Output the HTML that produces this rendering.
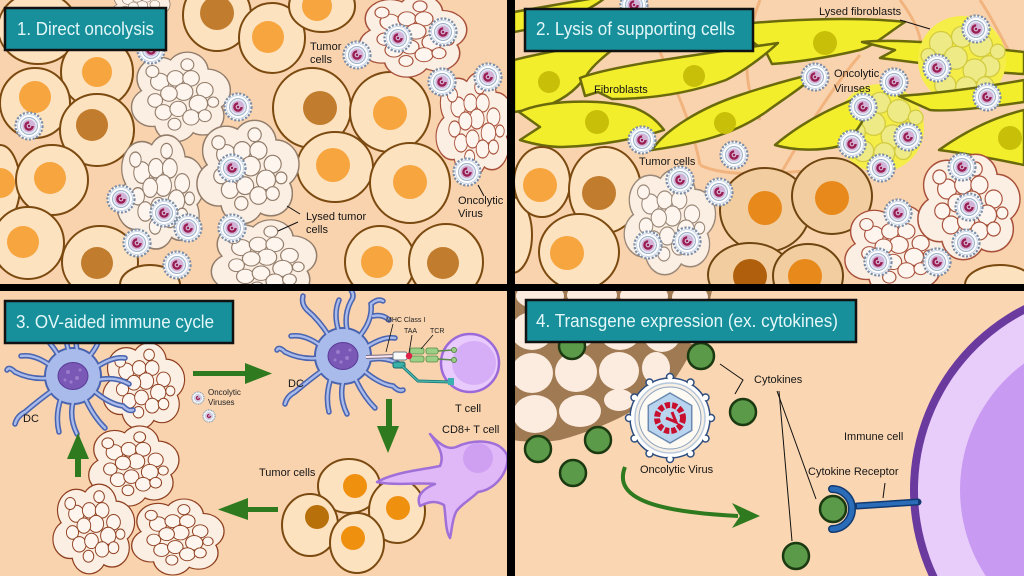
<!DOCTYPE html>
<html><head><meta charset="utf-8"><style>
html,body{margin:0;padding:0;background:#000;width:1024px;height:576px;overflow:hidden;}
svg{display:block;font-family:"Liberation Sans",Arial,sans-serif;overflow:hidden;}
.c{fill:#fde2c0;stroke:#7b4a10;stroke-width:2}
.t{fill:#f2cda0;stroke:#6e4510;stroke-width:2}
.no{fill:#f7a53f}.nb{fill:#c27c2e}.nd{fill:#e8891c}.nk{fill:#b0600c}
.fb{fill:#f3ee2c;stroke:#6a6a0c;stroke-width:2.5;stroke-linejoin:round}
.fn{fill:#c8bf08}
.lb{font-size:11px;fill:#151515}
.ttl{font-size:18px;fill:#e4f7f8}
.box{fill:#17909c;stroke:#111;stroke-width:2.5}
.cy{fill:#5b9a48;stroke:#1c3a12;stroke-width:2.5}
</style></head><body>
<svg width="1024" height="576" viewBox="0 0 1024 576" xmlns="http://www.w3.org/2000/svg">
<defs>
<clipPath id="c1"><rect x="0" y="0" width="507" height="284"/></clipPath>
<clipPath id="c2"><rect x="515" y="0" width="509" height="284"/></clipPath>
<clipPath id="c3"><rect x="0" y="291" width="507" height="285"/></clipPath>
<clipPath id="c4"><rect x="515" y="291" width="509" height="285"/></clipPath>
<g id="v">
<circle r="13.5" fill="#fff" stroke="#7d8fa8" stroke-width="2.2" stroke-dasharray="2.2 1.6"/>
<circle r="11.5" fill="#fff" stroke="#c8d4e4" stroke-width="1"/>
<circle r="8.5" fill="#e6edf6" stroke="#9fb0c8" stroke-width="1"/>
<circle r="6.5" fill="#d2b4d8"/>
<circle r="3.6" fill="none" stroke="#9a1e50" stroke-width="2.4" stroke-dasharray="17 6"/>
<circle r="1.2" fill="#9a1e50"/>
</g>
<g id="L">
<g fill="#fbeee2" stroke="currentColor" stroke-width="3">
<circle cx="-22" cy="-22" r="24"/><circle cx="8" cy="-30" r="22"/><circle cx="30" cy="-8" r="24"/><circle cx="25" cy="22" r="22"/><circle cx="-5" cy="30" r="22"/><circle cx="-30" cy="12" r="22"/><circle cx="0" cy="0" r="30"/>
</g>
<g fill="#fbeee2">
<circle cx="-22" cy="-22" r="24"/><circle cx="8" cy="-30" r="22"/><circle cx="30" cy="-8" r="24"/><circle cx="25" cy="22" r="22"/><circle cx="-5" cy="30" r="22"/><circle cx="-30" cy="12" r="22"/><circle cx="0" cy="0" r="30"/>
</g>
<g fill="#fdf5ee" stroke="currentColor" stroke-width="1.2">
<circle cx="-22" cy="-18" r="10"/><circle cx="-5" cy="-22" r="9"/><circle cx="12" cy="-22" r="9"/><circle cx="27" cy="-8" r="9"/><circle cx="20" cy="8" r="10"/><circle cx="4" cy="-6" r="10"/><circle cx="-12" cy="-4" r="9"/><circle cx="-27" cy="4" r="8"/><circle cx="-18" cy="18" r="9"/><circle cx="-2" cy="14" r="9"/><circle cx="12" cy="24" r="9"/><circle cx="27" cy="22" r="7"/><circle cx="-6" cy="32" r="7"/><circle cx="8" cy="-38" r="7"/><circle cx="-30" cy="-30" r="7"/><circle cx="36" cy="6" r="6"/>
</g>
</g>
<g id="LY">
<g fill="#eeea86" stroke="#d2cb3e" stroke-width="1.2">
<circle cx="-20" cy="-18" r="11"/><circle cx="0" cy="-24" r="10"/><circle cx="18" cy="-16" r="11"/><circle cx="26" cy="4" r="10"/><circle cx="12" cy="8" r="11"/><circle cx="-6" cy="-4" r="11"/><circle cx="-24" cy="4" r="10"/><circle cx="-16" cy="22" r="10"/><circle cx="4" cy="24" r="10"/><circle cx="22" cy="22" r="8"/><circle cx="-32" cy="-6" r="7"/><circle cx="34" cy="-10" r="7"/>
</g>
</g>
<g id="dc">
<g fill="none" stroke="#4a64b0" stroke-width="5.5" stroke-linecap="round">
<path id="dd" d="M5,-22 Q0,-40 8,-55 Q12,-60 8,-66 M15,-18 Q30,-35 28,-52 Q35,-58 40,-55 M22,-8 Q40,-20 52,-18 M24,4 Q42,0 56,8 M20,14 Q36,28 50,30 Q56,36 60,34 M12,22 Q20,40 32,52 M0,26 Q-4,42 4,58 M-12,22 Q-18,40 -14,56 M-20,14 Q-34,24 -48,36 Q-56,40 -58,48 M-24,2 Q-42,4 -58,-4 Q-64,-10 -66,-6 M-22,-10 Q-38,-22 -52,-20 M-14,-20 Q-24,-36 -36,-46 M-4,-24 Q-10,-42 -4,-56 M30,-40 Q40,-42 46,-36 M-36,-46 Q-42,-52 -40,-60"/>
</g>
<circle r="28" fill="#a9bbea" stroke="#4a64b0" stroke-width="2"/>
<use href="#dd" fill="none" stroke="#a9bbea" stroke-width="2.4" stroke-linecap="round"/>
<circle r="24" fill="#a9bbea"/>
<ellipse rx="15" ry="13.5" fill="#7a58b6" stroke="#5a3a98" stroke-width="1"/>
<g fill="#9a7ccc"><circle cx="-5" cy="-4" r="2"/><circle cx="4" cy="2" r="2"/><circle cx="-2" cy="6" r="1.6"/><circle cx="7" cy="-6" r="1.6"/><circle cx="-8" cy="4" r="1.5"/></g>
</g>
</defs>

<rect width="1024" height="576" fill="#000"/>

<!-- ===== PANEL 1 ===== -->
<g clip-path="url(#c1)">
<rect x="0" y="0" width="507" height="284" fill="#f9d3ae"/>
<g>
<ellipse class="c" cx="38" cy="28" rx="40" ry="36"/>
<ellipse class="c" cx="97" cy="72" rx="36" ry="36"/><circle class="no" cx="97" cy="72" r="15"/>
<ellipse class="c" cx="35" cy="103" rx="35" ry="35"/><circle class="no" cx="35" cy="97" r="16"/>
<ellipse class="c" cx="97" cy="130" rx="37" ry="36"/><circle class="nb" cx="92" cy="125" r="16"/>
<ellipse class="c" cx="0" cy="185" rx="20" ry="40"/><circle class="no" cx="0" cy="183" r="15"/>
<ellipse class="c" cx="52" cy="180" rx="36" ry="35"/><circle class="no" cx="50" cy="178" r="16"/>
<ellipse class="c" cx="28" cy="243" rx="36" ry="36"/><circle class="no" cx="23" cy="242" r="16"/>
<ellipse class="c" cx="100" cy="262" rx="38" ry="36"/><circle class="nb" cx="97" cy="263" r="16"/>
<ellipse class="c" cx="150" cy="285" rx="30" ry="20"/>
<ellipse class="c" cx="217" cy="15" rx="34" ry="36"/><circle class="nb" cx="217" cy="13" r="17"/>
<ellipse class="c" cx="272" cy="38" rx="33" ry="35"/><circle class="no" cx="268" cy="37" r="16"/>
<ellipse class="c" cx="322" cy="6" rx="33" ry="26"/><circle class="no" cx="317" cy="6" r="15"/>
<ellipse class="c" cx="312" cy="108" rx="39" ry="40"/><circle class="nb" cx="320" cy="108" r="17"/>
<ellipse class="c" cx="390" cy="112" rx="40" ry="40"/><circle class="no" cx="390" cy="113" r="17"/>
<ellipse class="c" cx="335" cy="167" rx="38" ry="35"/><circle class="no" cx="333" cy="165" r="17"/>
<ellipse class="c" cx="410" cy="183" rx="40" ry="40"/><circle class="no" cx="410" cy="182" r="17"/>
<ellipse class="c" cx="380" cy="262" rx="35" ry="36"/><circle class="no" cx="377" cy="262" r="16"/>
<ellipse class="c" cx="446" cy="262" rx="37" ry="38"/><circle class="nb" cx="443" cy="263" r="16"/>
</g>
<g color="#927c6a">
<use href="#L" transform="translate(180,97) scale(0.92,0.85)"/>
<use href="#L" transform="translate(160,192) scale(0.82,1.08)"/>
<use href="#L" transform="translate(247,172) scale(0.95,0.98)"/>
<use href="#L" transform="translate(263,262) scale(0.98,0.8)"/>
<use href="#L" transform="translate(140,8) scale(0.55,0.45)"/>
</g>
<g color="#a8503a">
<use href="#L" transform="translate(412,36) scale(1.0,0.78)"/>
<use href="#L" transform="translate(474,125) scale(0.72,1.0)"/>
</g>
<g>
<use href="#v" x="29" y="126"/><use href="#v" x="238" y="107"/><use href="#v" x="357" y="55"/><use href="#v" x="398" y="38"/><use href="#v" x="443" y="32"/><use href="#v" x="442" y="82"/><use href="#v" x="488" y="77"/><use href="#v" x="467" y="172"/><use href="#v" x="232" y="168"/><use href="#v" x="121" y="199"/><use href="#v" x="164" y="213"/><use href="#v" x="188" y="228"/><use href="#v" x="232" y="228"/><use href="#v" x="137" y="243"/><use href="#v" x="177" y="265"/><use href="#v" x="151" y="50"/>
</g>
<g stroke="#111" stroke-width="1">
<line x1="287" y1="206" x2="300" y2="214"/><line x1="278" y1="231" x2="298" y2="222"/><line x1="478" y1="185" x2="484" y2="196"/>
</g>
<text class="lb" x="310" y="50">Tumor</text><text class="lb" x="310" y="63">cells</text>
<text class="lb" x="306" y="220">Lysed tumor</text><text class="lb" x="306" y="233">cells</text>
<text class="lb" x="458" y="204">Oncolytic</text><text class="lb" x="458" y="217">Virus</text>
<rect class="box" x="5" y="8" width="161" height="42"/>
<text class="ttl" x="17" y="35" textLength="137" lengthAdjust="spacingAndGlyphs">1. Direct oncolysis</text>
</g>

<!-- ===== PANEL 2 ===== -->
<g clip-path="url(#c2)">
<rect x="515" y="0" width="509" height="284" fill="#f9d3ae"/>
<g fill="none" stroke="#f0ad74" stroke-width="3" opacity="0.8">
<path d="M640,0 C660,60 690,110 700,165"/>
<path d="M760,0 C745,40 740,80 760,120"/>
<path d="M860,55 C830,90 800,140 780,175"/>
<path d="M980,0 C1000,30 1010,60 1024,70"/>
<path d="M700,165 C730,180 790,172 840,168"/>
<path d="M900,0 C915,20 925,40 920,60"/>
</g>
<g>
<path class="fb" d="M514,12 L595,-2 L605,-2 C585,14 550,26 514,32 Z"/>
<path class="fb" d="M752,25 L690,40 L752,35 Z"/>
<path class="fb" d="M752,23 C800,19 860,17 905,22 C885,35 875,45 860,50 C830,57 800,62 772,64 L765,50 C758,46 752,43 745,33 Z"/><circle class="fn" cx="825" cy="43" r="12"/>
<path class="fb" d="M862,42 C900,38 960,45 1024,52 L1024,74 C980,72 930,64 880,58 L895,50 Z"/>
<path class="fb" d="M514,60 C545,52 580,46 625,40 C605,55 592,66 586,76 C575,92 560,102 540,108 L514,112 Z"/><circle class="fn" cx="549" cy="82" r="11"/>
<path class="fb" d="M580,78 C610,66 690,56 778,43 C762,58 742,72 726,80 C690,93 650,99 612,99 L598,92 L585,96 Z"/><circle class="fn" cx="694" cy="76" r="11"/>
<path class="fb" d="M519,112 C545,100 600,98 635,108 C650,114 658,122 664,130 C640,138 600,146 562,147 C545,147 530,143 520,140 L540,127 Z"/><circle class="fn" cx="597" cy="122" r="12"/>
<path class="fb" d="M652,150 C665,130 700,108 740,95 C770,85 795,78 818,73 C802,88 782,100 766,112 C740,130 710,142 652,150 Z"/><circle class="fn" cx="725" cy="123" r="11"/>
</g>
<circle cx="880" cy="128" r="44" fill="#f6ee48"/>
<circle cx="962" cy="60" r="44" fill="#f6ee48"/>
<use href="#LY" transform="translate(880,128) scale(1.05)"/>
<use href="#LY" transform="translate(962,62) scale(1.05)"/>
<g>
<path class="fb" d="M775,145 C795,128 822,112 852,100 L868,110 C860,128 850,140 840,146 C820,151 795,151 775,145 Z"/>
<path class="fb" d="M899,96 C930,94 980,88 1024,80 L1024,102 C990,107 950,112 930,110 Z"/>
<path class="fb" d="M939,150 C960,135 990,118 1024,110 L1024,165 C1000,160 970,154 939,150 Z"/><circle class="fn" cx="1010" cy="138" r="12"/>
</g>
<g>
<ellipse class="c" cx="512" cy="235" rx="20" ry="38"/>
<ellipse class="c" cx="542" cy="182" rx="28" ry="35"/><circle class="no" cx="540" cy="185" r="17"/>
<ellipse class="c" cx="605" cy="190" rx="36" ry="43"/><circle class="nb" cx="599" cy="193" r="17"/>
<ellipse class="c" cx="579" cy="252" rx="40" ry="38"/><circle class="no" cx="567" cy="253" r="17"/>
<ellipse class="t" cx="765" cy="210" rx="45" ry="42"/><circle class="nd" cx="765" cy="208" r="17"/>
<ellipse class="t" cx="832" cy="196" rx="40" ry="38"/><circle class="nd" cx="832" cy="198" r="17"/>
<ellipse class="t" cx="750" cy="275" rx="42" ry="32"/><circle class="nk" cx="750" cy="276" r="17"/>
<ellipse class="t" cx="808" cy="276" rx="35" ry="32"/><circle class="nd" cx="805" cy="276" r="17"/>
<ellipse class="c" cx="1000" cy="285" rx="35" ry="20"/>
</g>
<g color="#9a8878"><use href="#L" transform="translate(669,222) scale(0.85,1.0)"/></g>
<g color="#a8503a">
<use href="#L" transform="translate(895,250) scale(0.95,0.85)"/>
<use href="#L" transform="translate(968,207) scale(0.95,1.0)"/>
</g>
<g>
<use href="#v" x="634" y="5"/><use href="#v" x="815" y="77"/><use href="#v" x="894" y="82"/><use href="#v" x="937" y="68"/><use href="#v" x="976" y="29"/><use href="#v" x="987" y="97"/><use href="#v" x="863" y="107"/><use href="#v" x="908" y="137"/><use href="#v" x="852" y="144"/><use href="#v" x="881" y="168"/><use href="#v" x="642" y="140"/><use href="#v" x="734" y="155"/><use href="#v" x="680" y="180"/><use href="#v" x="719" y="192"/><use href="#v" x="648" y="245"/><use href="#v" x="687" y="241"/><use href="#v" x="962" y="167"/><use href="#v" x="969" y="207"/><use href="#v" x="898" y="213"/><use href="#v" x="966" y="243"/><use href="#v" x="878" y="262"/><use href="#v" x="937" y="262"/>
</g>
<line x1="900" y1="20" x2="930" y2="29" stroke="#111" stroke-width="1"/>
<text class="lb" x="819" y="15">Lysed fibroblasts</text>
<text class="lb" x="594" y="93">Fibroblasts</text>
<text class="lb" x="834" y="77">Oncolytic</text><text class="lb" x="834" y="92">Viruses</text>
<text class="lb" x="639" y="165">Tumor cells</text>
<rect class="box" x="525" y="9" width="228" height="42"/>
<text class="ttl" x="536" y="35" textLength="199" lengthAdjust="spacingAndGlyphs">2. Lysis of supporting cells</text>
</g>

<!-- ===== PANEL 3 ===== -->
<g clip-path="url(#c3)">
<rect x="0" y="291" width="507" height="285" fill="#f9d3ae"/>
<g color="#8e3e1e">
<use href="#L" transform="translate(143,386) scale(0.76,0.82)"/>
<use href="#L" transform="translate(133,466) scale(0.84,0.76)"/>
<use href="#L" transform="translate(93,529) scale(0.76,0.85)"/>
<use href="#L" transform="translate(177,537) scale(0.86,0.72)"/>
</g>
<use href="#dc" transform="translate(73,376)"/>
<use href="#dc" transform="translate(343,356)"/>
<g fill="#2f7a1e">
<rect x="193" y="371" width="54" height="5"/><polygon points="245,363 272,373.5 245,384"/>
<rect x="386" y="399" width="6" height="28"/><polygon points="377,426 399,426 388,453"/>
<rect x="246" y="507" width="32" height="5"/><polygon points="248,498 218,509.5 248,520"/>
<rect x="75" y="457" width="6" height="20"/><polygon points="67,459 89,459 78,433"/>
</g>
<g><use href="#v" transform="translate(198,398) scale(0.45)"/><use href="#v" transform="translate(209,416) scale(0.45)"/></g>
<text x="208" y="395" font-size="8" fill="#222">Oncolytic</text><text x="208" y="405" font-size="8" fill="#222">Viruses</text>
<circle cx="470" cy="363" r="29" fill="#e8cafc" stroke="#9c6ad8" stroke-width="2.5"/>
<circle cx="474" cy="363" r="22" fill="#d6aef7"/>
<line x1="366" y1="357" x2="395" y2="356" stroke="#7a6a7a" stroke-width="4"/>
<line x1="366" y1="357" x2="395" y2="356" stroke="#f7e6f3" stroke-width="2"/>
<rect x="393" y="352" width="14" height="8" rx="2" fill="#f8f8f8" stroke="#6a7a8a"/>
<rect x="393" y="362" width="12" height="6" rx="2" fill="#3ab0a8" stroke="#1a6a6a"/>
<path d="M402,366 L418,381 L450,382" fill="none" stroke="#1e7a78" stroke-width="3"/>
<path d="M402,366 L418,381 L450,382" fill="none" stroke="#49b8b0" stroke-width="1.2"/>
<rect x="448" y="378" width="6" height="7" fill="#3ab0b0"/>
<g fill="#9ccf86" stroke="#5a8a4a" stroke-width="0.8">
<rect x="410" y="348" width="14" height="6" rx="2"/><rect x="426" y="348" width="12" height="6" rx="2"/>
<rect x="410" y="356" width="14" height="6" rx="2"/><rect x="426" y="356" width="12" height="6" rx="2"/>
</g>
<g stroke="#5a8a4a" stroke-width="1.5"><line x1="438" y1="351" x2="453" y2="350"/><line x1="438" y1="359" x2="453" y2="360"/></g>
<circle cx="454" cy="350" r="2.5" fill="#9ccf86" stroke="#5a8a4a"/><circle cx="454" cy="360" r="2.5" fill="#9ccf86" stroke="#5a8a4a"/>
<circle cx="409" cy="356" r="3.2" fill="#e0204a"/>
<g stroke="#111" stroke-width="0.8"><line x1="393" y1="324" x2="386" y2="352"/><line x1="412" y1="335" x2="409" y2="353"/><line x1="433" y1="335" x2="421" y2="349"/></g>
<text x="386" y="322" font-size="7" fill="#222">MHC Class I</text>
<text x="404" y="333" font-size="7" fill="#222">TAA</text>
<text x="430" y="333" font-size="7" fill="#222">TCR</text>
<ellipse class="c" cx="349" cy="486" rx="31" ry="27"/><circle cx="355" cy="486" r="12" fill="#f0900f"/>
<ellipse class="c" cx="310" cy="525" rx="28" ry="31"/><circle cx="317" cy="517" r="12" fill="#b8700a"/>
<ellipse class="c" cx="397" cy="511" rx="28" ry="32"/><circle cx="398" cy="508" r="12" fill="#f0900f"/>
<ellipse class="c" cx="357" cy="543" rx="27" ry="30"/><circle cx="353" cy="538" r="12" fill="#f0900f"/>
<path d="M430,434 C440,445 448,450 456,447 C476,438 500,440 507,455 C510,470 496,490 478,492 C470,500 460,505 456,512 C452,520 452,530 450,538 C445,530 446,515 444,505 C435,500 428,502 420,506 C415,495 425,488 435,484 C420,482 395,486 377,482 C395,472 420,470 440,466 C445,455 438,445 430,434 Z" fill="#e0b8f8" stroke="#a070d8" stroke-width="2.5" stroke-linejoin="round"/>
<circle cx="478" cy="458" r="15" fill="#cfa0f2"/>
<text class="lb" x="23" y="422">DC</text>
<text class="lb" x="288" y="387">DC</text>
<text class="lb" x="455" y="412">T cell</text>
<text class="lb" x="442" y="433">CD8+ T cell</text>
<text class="lb" x="259" y="476">Tumor cells</text>
<rect class="box" x="5" y="301" width="228" height="42"/>
<text class="ttl" x="16" y="328" textLength="198" lengthAdjust="spacingAndGlyphs">3. OV-aided immune cycle</text>
</g>

<!-- ===== PANEL 4 ===== -->
<g clip-path="url(#c4)">
<rect x="515" y="291" width="509" height="285" fill="#fbd6b2"/>
<path d="M512,291 L712,291 C704,325 692,355 674,380 C650,405 606,428 560,440 C540,443 525,442 512,440 Z" fill="#a07a52"/>
<g fill="#fcece0">
<ellipse cx="540" cy="296" rx="24" ry="13"/><ellipse cx="592" cy="295" rx="25" ry="13"/><ellipse cx="644" cy="296" rx="24" ry="13"/><ellipse cx="690" cy="297" rx="18" ry="12"/>
<ellipse cx="532" cy="331" rx="21" ry="19"/><ellipse cx="576" cy="330" rx="21" ry="19"/><ellipse cx="620" cy="331" rx="21" ry="19"/><ellipse cx="662" cy="333" rx="19" ry="19"/><ellipse cx="692" cy="330" rx="8" ry="14"/>
<ellipse cx="532" cy="373" rx="21" ry="20"/><ellipse cx="576" cy="372" rx="21" ry="20"/><ellipse cx="619" cy="371" rx="20" ry="19"/><ellipse cx="656" cy="368" rx="14" ry="16"/>
<ellipse cx="535" cy="414" rx="22" ry="19"/><ellipse cx="580" cy="411" rx="21" ry="16"/><ellipse cx="619" cy="400" rx="15" ry="11"/>
</g>
<g>
<circle class="cy" cx="572" cy="346" r="13"/><circle class="cy" cx="701" cy="356" r="13"/><circle class="cy" cx="743" cy="412" r="13"/><circle class="cy" cx="598" cy="440" r="13"/><circle class="cy" cx="538" cy="449" r="13"/><circle class="cy" cx="573" cy="473" r="13"/><circle class="cy" cx="796" cy="556" r="13"/>
</g>
<g transform="translate(670,418)">
<g fill="#fff" stroke="#2e4e80" stroke-width="1.5">
<circle r="40"/>
<circle cx="0" cy="-41" r="3.5"/><circle cx="20.5" cy="-35.5" r="3.5"/><circle cx="35.5" cy="-20.5" r="3.5"/><circle cx="41" cy="0" r="3.5"/><circle cx="35.5" cy="20.5" r="3.5"/><circle cx="20.5" cy="35.5" r="3.5"/><circle cx="0" cy="41" r="3.5"/><circle cx="-20.5" cy="35.5" r="3.5"/><circle cx="-35.5" cy="20.5" r="3.5"/><circle cx="-41" cy="0" r="3.5"/><circle cx="-35.5" cy="-20.5" r="3.5"/><circle cx="-20.5" cy="-35.5" r="3.5"/>
</g>
<circle r="39" fill="#fff"/>
<circle r="35" fill="#f6f0e6" stroke="#b8c8dc" stroke-width="1.5"/>
<circle r="31" fill="#fdfaf4" stroke="#8aa0bc" stroke-width="1"/>
<polygon points="0,-25 21.7,-12.5 21.7,12.5 0,25 -21.7,12.5 -21.7,-12.5" fill="#b9d4ee" stroke="#6a88b0" stroke-width="1.5"/>
<circle r="13" fill="none" stroke="#c8102e" stroke-width="6" stroke-dasharray="5 2"/>
<path d="M-4,0 L6,4 L2,-6" fill="none" stroke="#c8102e" stroke-width="3"/>
</g>
<!-- immune cell (paths kept inside frame) -->
<path d="M1024,305.1 A207,207 0 0 0 928.7,576 L1024,576 Z" fill="#6b3a9f"/>
<path d="M1024,314.1 A199,199 0 0 0 937.5,576 L1024,576 Z" fill="#e8cdfb"/>
<path d="M1024,363.5 A157,157 0 0 0 985.7,576 L1024,576 Z" fill="#c99af2"/>
<path d="M857,506 L918,502" stroke="#123a70" stroke-width="7" stroke-linecap="round"/>
<path d="M857,506 L918,502" stroke="#2a6cb8" stroke-width="4"/>
<path d="M832,489 A20,20 0 0 1 832,529" fill="none" stroke="#123a70" stroke-width="8" stroke-linecap="round"/>
<path d="M832,489 A20,20 0 0 1 832,529" fill="none" stroke="#2a6cb8" stroke-width="5" stroke-linecap="round"/>
<circle class="cy" cx="833" cy="509" r="13"/>
<path d="M625,467 C612,500 660,512 738,516" fill="none" stroke="#2f7a1e" stroke-width="4"/>
<polygon points="732,503 760,516 732,528 740,516" fill="#2f7a1e"/>
<g stroke="#111" stroke-width="1" fill="none">
<path d="M720,364 L743,380 L735,394"/>
<line x1="777" y1="391" x2="816" y2="499"/><line x1="779" y1="391" x2="792" y2="541"/>
<line x1="885" y1="483" x2="883" y2="498"/>
</g>
<text class="lb" x="754" y="383">Cytokines</text>
<text class="lb" x="640" y="473">Oncolytic Virus</text>
<text class="lb" x="844" y="440">Immune cell</text>
<text class="lb" x="808" y="475">Cytokine Receptor</text>
<rect class="box" x="526" y="300" width="330" height="42"/>
<text class="ttl" x="536" y="327" textLength="302" lengthAdjust="spacingAndGlyphs">4. Transgene expression (ex. cytokines)</text>
</g>
</svg>
</body></html>
